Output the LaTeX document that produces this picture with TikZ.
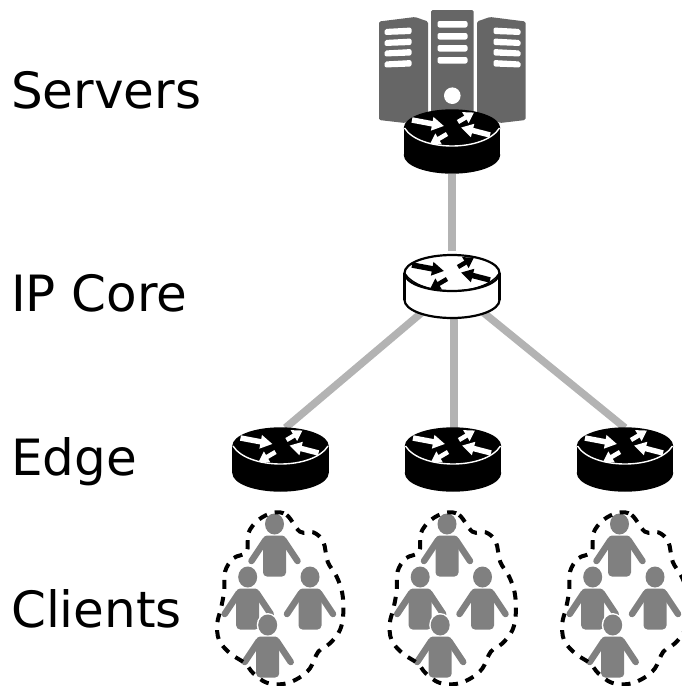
\documentclass[tikz,border=0pt]{standalone}
\usepackage{fontspec}
\setmainfont{DejaVu Sans}
\usetikzlibrary{arrows.meta,shapes.geometric}
\definecolor{srv}{HTML}{666666}
\definecolor{link}{HTML}{B3B3B3}
\definecolor{usr}{HTML}{808080}
\tikzset{
  x=1pt,y=-1pt,
  lbl/.style={anchor=base west,inner sep=0pt,font=\fontsize{50}{50}\selectfont},
  routerbox/.style={shape=ellipse,minimum width=95pt,minimum height=64pt,inner sep=0pt},
  linkline/.style={draw=link,line width=7.5pt},
  longarrow/.style={line width=5.5pt,-{Triangle[length=12pt,width=13pt]}},
  shortarrow/.style={line width=4.5pt,-{Triangle[length=10pt,width=12pt]}},
  bar/.style={fill=white,rounded corners=2pt},
  pics/router/.style n args={4}{code={
    \fill[#1,draw=#2,line width=#4] (0,27) ellipse [x radius=47.5,y radius=18];
    \fill[#1] (-47.5,0) rectangle (47.5,27);
    \draw[#2,line width=#4] (-47.5,0) -- (-47.5,27) (47.5,0) -- (47.5,27);
    \fill[#1,draw=#2,line width=#4] (0,0) ellipse [x radius=47.5,y radius=18];
    \draw[#3,line width=1.4pt] (-47.5,0) .. controls (-40,12) and (-20,18) .. (0,18) .. controls (20,18) and (40,12) .. (47.5,0);
    \draw[longarrow,#3] (-40,-8) -- (-8,-2);
    \draw[shortarrow,#3] (6,-6) -- (22,-15.5);
    \draw[longarrow,#3] (38,7) -- (9,-0.5);
    \draw[shortarrow,#3] (-5,6) -- (-22,16);
  }},
  pics/person/.style={code={
    \fill[usr] (0,0) ellipse [x radius=9.5,y radius=10.5];
    \draw[usr,line width=6.5pt,line cap=round,line join=round] (-23,37) -- (-9,16) -- (9,16) -- (23,37);
    \fill[usr,rounded corners=4pt] (-11.5,11.5) rectangle (11.5,52.5);
  }},
  pics/clients/.style={code={
    \pic at (69.5,24) {person};
    \pic at (42.7,77) {person};
    \pic at (105,77) {person};
    \fill[white] (62.7,125) ellipse [x radius=11,y radius=12];
    \pic at (62.7,125) {person};
    \draw[black,line width=4pt,dash pattern=on 9pt off 8pt]
      plot[smooth cycle,tension=.6] coordinates {
      (68.3,12.7) (81.7,15) (95,31.7) (108.3,32.3) (118.3,41.7) (122.7,61.7)
      (131.7,76.7) (137.3,93.3) (138.3,113.3) (135,130) (125,143.3) (113.3,151.7)
      (105,168.3) (93.3,178.3) (78.3,184) (61.7,182.7) (48.3,173.3) (40,163.3)
      (25,153.3) (14,140) (12.3,123.3) (16,108.3) (19.3,90) (20,71.7)
      (28.3,58.3) (41.7,51.7) (43.3,33.3) (53.3,20)};
  }},
}
\begin{document}
\begin{tikzpicture}
\useasboundingbox (0,0) rectangle (681,686);
% labels
\node[lbl] (lServers) at (11,108) {Servers};
\node[lbl] (lCore) at (11,311) {IP Core};
\node[lbl] (lEdge) at (11,475) {Edge};
\node[lbl] (lClients) at (11,627) {Clients};
% server towers
\fill[srv,rounded corners=1.5pt] (379,21.5) -- (415,17) -- (428,21.5) -- (428,113) -- (405,123) -- (379,120) -- cycle;
\fill[srv,rounded corners=1.5pt] (525.5,21.5) -- (490,17) -- (477,21.5) -- (477,113) -- (500,123) -- (525.5,120) -- cycle;
\fill[srv,rounded corners=1.5pt] (431,10) rectangle (473.5,118);
\foreach \yy in {21,33,45,57}{\fill[bar] (437.5,\yy) rectangle (467.5,\yy+6.5);}
\fill[white] (452.3,95.7) circle (8.3);
\foreach \yy in {28.5,39.5,50,61}{
  \fill[bar] (384.5,\yy+.5) -- (411.5,\yy-1) -- (411.5,\yy+5.5) -- (384.5,\yy+6.5) -- cycle;
  \fill[bar] (493.5,\yy-1) -- (520.5,\yy+.5) -- (520.5,\yy+6.5) -- (493.5,\yy+5.5) -- cycle;
}
% routers (named outlines)
\node[routerbox] (srvr) at (452,142) {};
\node[routerbox] (core) at (452,287) {};
\node[routerbox] (e1) at (280.5,460) {};
\node[routerbox] (e2) at (453,460) {};
\node[routerbox] (e3) at (625,460) {};
% links
\draw[linkline,shorten >=4pt] (srvr) -- (core);
\draw[linkline] (core) -- ([xshift=5pt]e1.north);
\draw[linkline] ([xshift=1pt]core.south -| e2.north) -- ([xshift=1pt]e2.north);
\draw[linkline] (core) -- (e3.north);
% router drawings
\pic at (452,128) {router={black}{black}{white}{1.4pt}};
\pic at (452,273) {router={white}{black}{black}{2.2pt}};
\pic at (280.5,446) {router={black}{black}{white}{1.4pt}};
\pic at (453,446) {router={black}{black}{white}{1.4pt}};
\pic at (625,446) {router={black}{black}{white}{1.4pt}};
% clients
\pic at (205,500) {clients};
\pic at (377.5,500) {clients};
\pic at (550,500) {clients};
\end{tikzpicture}
\end{document}
